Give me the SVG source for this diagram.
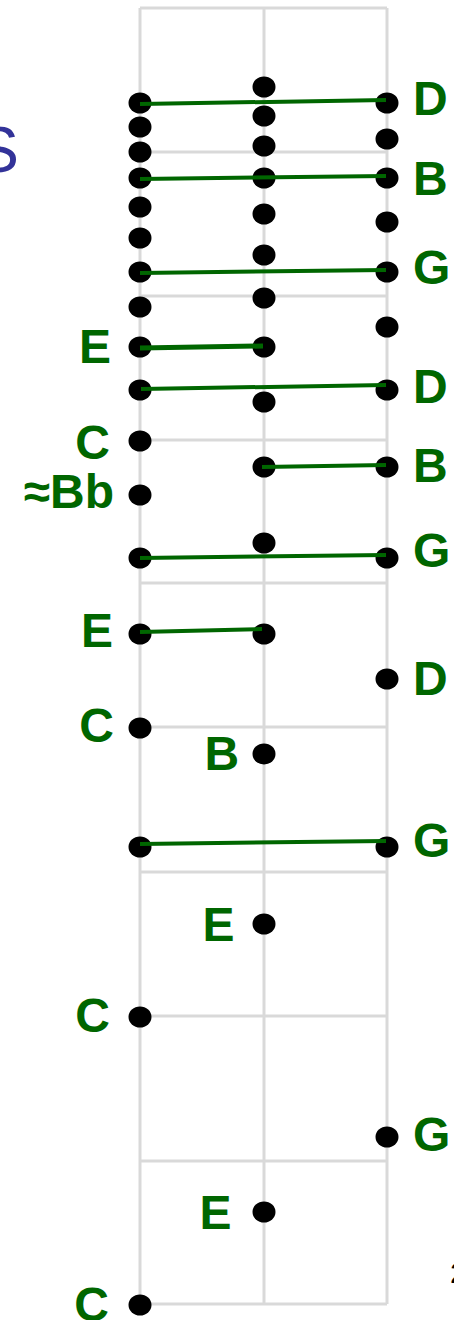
<svg xmlns="http://www.w3.org/2000/svg" width="454" height="1320" viewBox="0 0 454 1320">
<style>
.grid{stroke:#d9d9d9;stroke-width:3;fill:none}
.dot{fill:#000}
.conn{stroke:#006600;stroke-width:4;stroke-linecap:butt}
.lbl{font-family:"Liberation Sans",Arial,sans-serif;font-weight:bold;font-size:48px;fill:#006600}
.end{text-anchor:end}
</style>
<rect width="454" height="1320" fill="#fff"/>
<text x="19" y="172" style="font-family:'Liberation Sans',Arial,sans-serif;font-size:64px;fill:#333399;text-anchor:end">S</text>
<text x="450" y="1283" style="font-family:'Liberation Sans',Arial,sans-serif;font-size:30px;fill:#000">2</text>
<g id="grid" class="grid">
<line x1="140" y1="8" x2="140" y2="1304"/>
<line x1="264" y1="8" x2="264" y2="1304"/>
<line x1="387" y1="8" x2="387" y2="1304"/>
<line x1="140" y1="8" x2="387" y2="8"/>
<line x1="140" y1="152" x2="387" y2="152"/>
<line x1="140" y1="296" x2="387" y2="296"/>
<line x1="140" y1="440" x2="387" y2="440"/>
<line x1="140" y1="583" x2="387" y2="583"/>
<line x1="140" y1="727" x2="387" y2="727"/>
<line x1="140" y1="872" x2="387" y2="872"/>
<line x1="140" y1="1016" x2="387" y2="1016"/>
<line x1="140" y1="1161" x2="387" y2="1161"/>
<line x1="140" y1="1304" x2="387" y2="1304"/>
</g>
<g id="string1" class="dot">
<ellipse cx="140" cy="103" rx="11.5" ry="10.5"/>
<ellipse cx="140" cy="127" rx="11.5" ry="10.5"/>
<ellipse cx="140" cy="152" rx="11.5" ry="10.5"/>
<ellipse cx="140" cy="178" rx="11.5" ry="10.5"/>
<ellipse cx="140" cy="207" rx="11.5" ry="10.5"/>
<ellipse cx="140" cy="238" rx="11.5" ry="10.5"/>
<ellipse cx="140" cy="272" rx="11.5" ry="10.5"/>
<ellipse cx="140" cy="307" rx="11.5" ry="10.5"/>
<ellipse cx="140" cy="347" rx="11.5" ry="10.5"/>
<ellipse cx="140" cy="390" rx="11.5" ry="10.5"/>
<ellipse cx="140" cy="441" rx="11.5" ry="10.5"/>
<ellipse cx="140" cy="495" rx="11.5" ry="10.5"/>
<ellipse cx="140" cy="558" rx="11.5" ry="10.5"/>
<ellipse cx="140" cy="634" rx="11.5" ry="10.5"/>
<ellipse cx="140" cy="728" rx="11.5" ry="10.5"/>
<ellipse cx="140" cy="847" rx="11.5" ry="10.5"/>
<ellipse cx="140" cy="1017" rx="11.5" ry="10.5"/>
<ellipse cx="140" cy="1305" rx="11.5" ry="10.5"/>
</g>
<g id="string2" class="dot">
<ellipse cx="264" cy="87" rx="11.5" ry="10.5"/>
<ellipse cx="264" cy="116" rx="11.5" ry="10.5"/>
<ellipse cx="264" cy="146" rx="11.5" ry="10.5"/>
<ellipse cx="264" cy="178" rx="11.5" ry="10.5"/>
<ellipse cx="264" cy="214" rx="11.5" ry="10.5"/>
<ellipse cx="264" cy="255" rx="11.5" ry="10.5"/>
<ellipse cx="264" cy="298" rx="11.5" ry="10.5"/>
<ellipse cx="264" cy="347" rx="11.5" ry="10.5"/>
<ellipse cx="264" cy="402" rx="11.5" ry="10.5"/>
<ellipse cx="264" cy="467" rx="11.5" ry="10.5"/>
<ellipse cx="264" cy="543" rx="11.5" ry="10.5"/>
<ellipse cx="264" cy="634" rx="11.5" ry="10.5"/>
<ellipse cx="264" cy="754" rx="11.5" ry="10.5"/>
<ellipse cx="264" cy="924" rx="11.5" ry="10.5"/>
<ellipse cx="264" cy="1212" rx="11.5" ry="10.5"/>
</g>
<g id="string3" class="dot">
<ellipse cx="387" cy="103" rx="11.5" ry="10.5"/>
<ellipse cx="387" cy="139" rx="11.5" ry="10.5"/>
<ellipse cx="387" cy="178" rx="11.5" ry="10.5"/>
<ellipse cx="387" cy="222" rx="11.5" ry="10.5"/>
<ellipse cx="387" cy="272" rx="11.5" ry="10.5"/>
<ellipse cx="387" cy="327" rx="11.5" ry="10.5"/>
<ellipse cx="387" cy="390" rx="11.5" ry="10.5"/>
<ellipse cx="387" cy="467" rx="11.5" ry="10.5"/>
<ellipse cx="387" cy="558" rx="11.5" ry="10.5"/>
<ellipse cx="387" cy="679" rx="11.5" ry="10.5"/>
<ellipse cx="387" cy="847" rx="11.5" ry="10.5"/>
<ellipse cx="387" cy="1137" rx="11.5" ry="10.5"/>
</g>
<g id="connectors" class="conn">
<line x1="140" y1="104" x2="386" y2="100"/>
<line x1="140" y1="179" x2="386" y2="176"/>
<line x1="140" y1="273" x2="386" y2="270"/>
<line x1="140" y1="348" x2="263" y2="346" style="stroke-width:5"/>
<line x1="141" y1="389" x2="386" y2="385"/>
<line x1="262" y1="467" x2="386" y2="465"/>
<line x1="140" y1="558" x2="386" y2="555"/>
<line x1="140" y1="632" x2="262" y2="629"/>
<line x1="140" y1="844" x2="386" y2="841"/>
</g>
<g id="labels" class="lbl">
<text x="413" y="115">D</text>
<text x="413" y="195">B</text>
<text x="413" y="284">G</text>
<text class="end" x="111" y="363">E</text>
<text x="413" y="403">D</text>
<text class="end" x="110" y="459">C</text>
<text class="end" x="114" y="508">≈Bb</text>
<text x="413" y="482">B</text>
<text x="413" y="567">G</text>
<text class="end" x="113" y="647">E</text>
<text x="413" y="695">D</text>
<text class="end" x="114" y="742">C</text>
<text x="204.5" y="770">B</text>
<text x="413" y="857">G</text>
<text x="202.5" y="941">E</text>
<text class="end" x="110" y="1032">C</text>
<text x="413" y="1151">G</text>
<text x="199.5" y="1229">E</text>
<text class="end" x="109" y="1321">C</text>
</g>
</svg>
